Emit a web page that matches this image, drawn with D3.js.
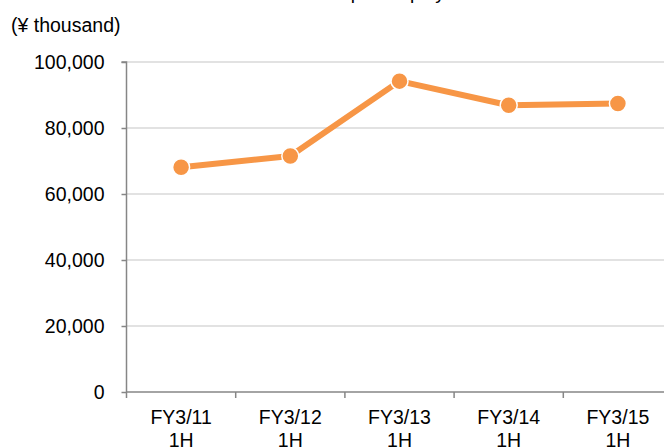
<!DOCTYPE html>
<html>
<head>
<meta charset="utf-8">
<script src="https://cdn.jsdelivr.net/npm/d3@7"></script>
<style>
  html, body { margin: 0; padding: 0; background: #fff; }
  svg { display: block; }
  text { font-family: "Liberation Sans", Arial, sans-serif; fill: #000; }
</style>
</head>
<body>
<svg id="chart" width="664" height="447"></svg>
<script>
// Data
const titleText = "Sales per employee";
const unitLabel = "(¥ thousand)";
const categories = ["FY3/11\n1H", "FY3/12\n1H", "FY3/13\n1H", "FY3/14\n1H", "FY3/15\n1H"];
const values = [68100, 71500, 94200, 86900, 87400];
const yTicks = [0, 20000, 40000, 60000, 80000, 100000];

(function () {
const svg = d3.select("#chart");
const W = 664;
const mLeft = 126.5, mTop = 62, mBottom = 392, bandW = 109.2;

const x = d3.scaleBand().domain(categories).range([mLeft, mLeft + bandW * categories.length]).padding(0);
const y = d3.scaleLinear().domain([0, 100000]).range([mBottom, mTop]);

// Title (mostly cut off at top, as in the reference)
svg.append("text").attr("x", 298).attr("y", -1)
  .attr("font-size", 19).text(titleText);

// Unit label
svg.append("text").attr("x", 11).attr("y", 31.5)
  .attr("font-size", 19.5).text(unitLabel);

// Gridlines
svg.append("g").selectAll("line").data(yTicks.filter(d => d > 0)).join("line")
  .attr("x1", mLeft).attr("x2", W)
  .attr("y1", d => y(d)).attr("y2", d => y(d))
  .attr("stroke", "#d9d9d9").attr("stroke-width", 1.5);

// Y axis
const yAxis = d3.axisLeft(y).tickValues(yTicks).tickSize(5).tickPadding(17)
  .tickFormat(d3.format(",d"));
const gy = svg.append("g").attr("transform", `translate(${mLeft},0)`).call(yAxis);
gy.select(".domain").attr("stroke", "#868686").attr("stroke-width", 1.5).attr("d", `M-5,${mTop}H0V${mBottom}`);
gy.selectAll(".tick line").attr("stroke", "#868686").attr("stroke-width", 1.5);
gy.selectAll(".tick text").attr("font-size", 19.5).attr("font-family", "Liberation Sans, Arial, sans-serif").attr("fill", "#000");

// X axis
const xAxis = d3.axisBottom(x).tickSize(0).tickFormat("");
const gx = svg.append("g").attr("transform", `translate(0,${mBottom})`).call(xAxis);
gx.select(".domain").attr("stroke", "#868686").attr("stroke-width", 1.5).attr("d", `M${mLeft},0H${W}`);
// category boundary tick marks
svg.append("g").selectAll("line").data(categories).join("line")
  .attr("x1", d => x(d)).attr("x2", d => x(d))
  .attr("y1", mBottom).attr("y2", mBottom + 6)
  .attr("stroke", "#868686").attr("stroke-width", 1.5);

// X labels
const xl = svg.append("g").selectAll("text").data(categories).join("text")
  .attr("text-anchor", "middle").attr("font-size", 19.5)
  .attr("x", d => x(d) + x.bandwidth() / 2);
xl.each(function(d) {
  const lines = d.split("\n");
  d3.select(this).selectAll("tspan").data(lines).join("tspan")
    .attr("x", x(d) + x.bandwidth() / 2)
    .attr("y", (l, i) => 424 + i * 23)
    .text(l => l);
});

// Line
const cx = (d, i) => x(categories[i]) + x.bandwidth() / 2;
const line = d3.line().x((d, i) => cx(d, i)).y(d => y(d));
svg.append("path").datum(values).attr("d", line)
  .attr("fill", "none").attr("stroke", "#f79646").attr("stroke-width", 6)
  .attr("stroke-linejoin", "round");

svg.append("g").selectAll("circle").data(values).join("circle")
  .attr("cx", (d, i) => cx(d, i)).attr("cy", d => y(d)).attr("r", 8.5)
  .attr("fill", "#f79646").attr("stroke", "#fff").attr("stroke-width", 1.5);
})();
</script>
</body>
</html>
